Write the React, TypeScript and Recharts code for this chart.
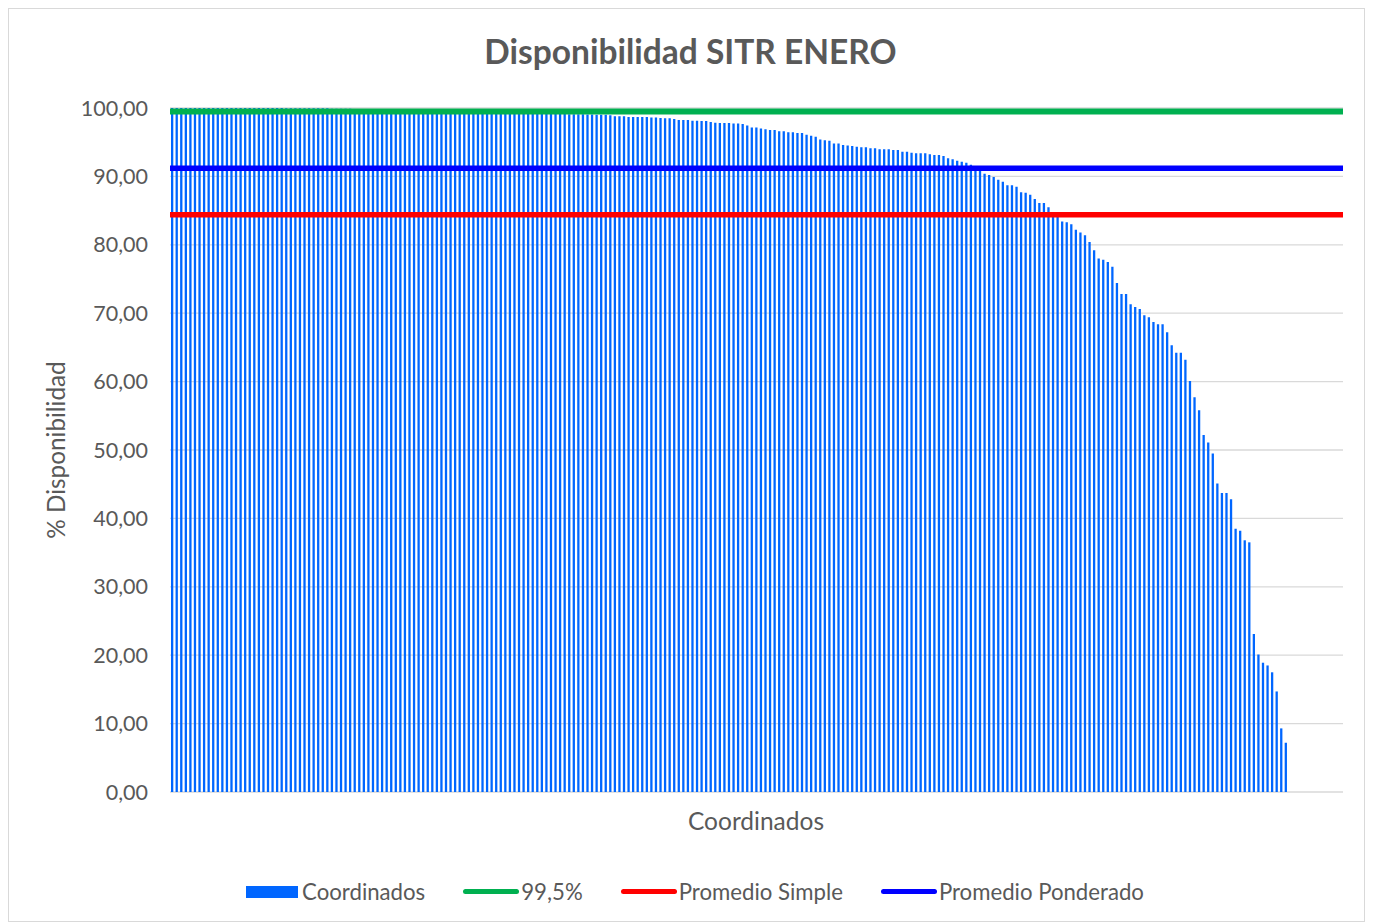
import { Bar, CartesianGrid, ComposedChart, ReferenceLine, XAxis, YAxis } from 'recharts';

// Disponibilidad (%) por coordinado, ordenada de mayor a menor
const tramoAlto = [
	100, 100, 100, 100, 100, 100, 100, 100, 100, 100, 100, 100, 100, 100, 100, 100, 100, 100, 100,
	99.99, 99.99, 99.99, 99.99, 99.99, 99.99, 99.98, 99.98, 99.98, 99.98, 99.98, 99.97, 99.97, 99.97,
	99.96, 99.96, 99.9, 99.9, 99.89, 99.88, 99.88, 99.87, 99.86, 99.86, 99.85, 99.84, 99.83, 99.82,
	99.81, 99.8, 99.8, 99.79, 99.78, 99.77, 99.76, 99.75, 99.74, 99.73, 99.72, 99.71, 99.7, 99.7,
	99.66, 99.64, 99.62, 99.6, 99.58, 99.56, 99.55, 99.53, 99.5, 99.48, 99.46, 99.45, 99.42, 99.4,
	99.38, 99.36, 99.35, 99.33, 99.3, 99.28, 99.26, 99.24, 99.22, 99.2, 99.15, 99.12, 99.1, 99.1,
	99.08, 99.07, 99.05, 99.05, 99.03, 99.02, 99.0, 98.95,
];

const tramoMedio = [
	98.8, 98.8, 98.8, 98.7, 98.7, 98.7, 98.7, 98.7, 98.6, 98.6, 98.55, 98.5, 98.5, 98.4, 98.25,
	98.25, 98.25, 98.15, 98.15, 98.1, 98.1, 97.95, 97.85, 97.8, 97.8, 97.8, 97.75, 97.75, 97.65,
	97.45, 97.15, 97.15, 97.0, 96.9, 96.8, 96.8, 96.6, 96.6, 96.45, 96.45, 96.35, 96.35, 96.1,
	95.95, 95.8, 95.4, 95.3, 95.2, 94.8, 94.8, 94.6, 94.5, 94.44, 94.35, 94.25, 94.25, 94.1, 94.1,
	93.96, 93.96, 93.96, 93.86, 93.86, 93.6, 93.6, 93.46, 93.4, 93.4, 93.4, 93.23, 93.13, 93.13,
	92.98, 92.64, 92.5, 92.3, 92.15, 92.0, 91.7, 91.4, 91.0,
];

const tramoBajo = [
	90.4, 90.2, 89.9, 89.5, 89.2, 88.7, 88.7, 88.5, 87.7, 87.6, 87.3, 86.7, 86.1, 86.1, 85.5, 84.8,
	84.6, 83.4, 83.3, 83.0, 82.2, 81.8, 81.4, 80.4, 79.2, 78.0, 77.8, 77.5, 76.8, 74.4, 72.8, 72.8,
	71.3, 70.9, 70.6, 69.7, 69.4, 68.7, 68.4, 68.4, 67.2, 65.3, 64.2, 64.2, 63.2, 60.1, 57.7, 55.8,
	52.2, 51.1, 49.5, 45.1, 43.7, 43.7, 42.8, 38.5, 38.2, 36.8, 36.5, 23.1, 20.1, 18.9, 18.5, 17.5,
	14.7, 9.3, 7.2,
];

const disponibilidad = [...tramoAlto, ...tramoMedio, ...tramoBajo];
const totalCategorias = 257; // el eje deja algunas categorías vacías al final

const meta = 99.5;
const promedioSimple = 84.4;
const promedioPonderado = 91.2;

const yTicks = [0, 10, 20, 30, 40, 50, 60, 70, 80, 90, 100];

const data = Array.from({ length: totalCategorias }, (_, i) => ({
	name: `C${i + 1}`,
	coordinados: i < disponibilidad.length ? disponibilidad[i] : null,
}));

const GRAY = '#595959';
const FONT = 'Lato, "Open Sans", sans-serif';

const legendItems = [
	{ label: 'Coordinados', color: '#0066FF', kind: 'rect' },
	{ label: '99,5%', color: '#00B050', kind: 'line' },
	{ label: 'Promedio Simple', color: '#FF0000', kind: 'line' },
	{ label: 'Promedio Ponderado', color: '#0000FF', kind: 'line' },
];

const fmt = (v: number) => v.toFixed(2).replace('.', ',');

export default function App() {
	return (
		<div
			style={{
				position: 'relative',
				width: 1357,
				height: 914,
				border: '1px solid #d9d9d9',
				boxSizing: 'border-box',
				background: '#fff',
				fontFamily: FONT,
				color: GRAY,
			}}
		>
			<div
				style={{
					position: 'absolute',
					top: 22,
					left: 0,
					width: 1363,
					textAlign: 'center',
					fontSize: 33.5,
					fontWeight: 700,
				}}
			>
				Disponibilidad SITR ENERO
			</div>
			<ComposedChart
				width={1355}
				height={912}
				data={data}
				margin={{ top: 99, right: 21, bottom: 129, left: 0 }}
				barCategoryGap={0}
				style={{ position: 'absolute', top: 0, left: 0 }}
			>
				<CartesianGrid vertical={false} stroke="#d9d9d9" strokeWidth={1.3} />
				<XAxis dataKey="name" hide padding={{ left: 0, right: 0 }} />
				<YAxis
					width={161}
					domain={[0, 100]}
					ticks={yTicks}
					tickFormatter={fmt}
					axisLine={false}
					tickLine={false}
					tickMargin={16}
					tick={{ fill: GRAY, fontSize: 21.5, fontFamily: FONT }}
				/>
				<Bar dataKey="coordinados" fill="#0066FF" barSize={2.3} isAnimationActive={false} />
				<ReferenceLine y={meta} stroke="#00B050" strokeWidth={6} />
				<ReferenceLine y={promedioPonderado} stroke="#0000FF" strokeWidth={5.5} />
				<ReferenceLine y={promedioSimple} stroke="#FF0000" strokeWidth={5.5} />
			</ComposedChart>
			<div
				style={{
					position: 'absolute',
					left: 46,
					top: 441,
					transform: 'translate(-50%, -50%) rotate(-90deg)',
					fontSize: 24.3,
					whiteSpace: 'nowrap',
				}}
			>
				% Disponibilidad
			</div>
			<div
				style={{
					position: 'absolute',
					left: 747,
					top: 811,
					transform: 'translate(-50%, -50%)',
					fontSize: 24.5,
					whiteSpace: 'nowrap',
				}}
			>
				Coordinados
			</div>
			<div
				style={{
					position: 'absolute',
					top: 869,
					left: 0,
					width: 1372,
					display: 'flex',
					justifyContent: 'center',
					gap: 38,
					fontSize: 22.2,
				}}
			>
				{legendItems.map(item => (
					<div key={item.label} style={{ display: 'flex', alignItems: 'center' }}>
						{item.kind === 'rect' ? (
							<span
								style={{ width: 52, height: 12, background: item.color, marginRight: 4 }}
							/>
						) : (
							<span
								style={{
									width: 56,
									height: 5,
									borderRadius: 3,
									background: item.color,
									marginRight: 2,
								}}
							/>
						)}
						<span>{item.label}</span>
					</div>
				))}
			</div>
		</div>
	);
}
